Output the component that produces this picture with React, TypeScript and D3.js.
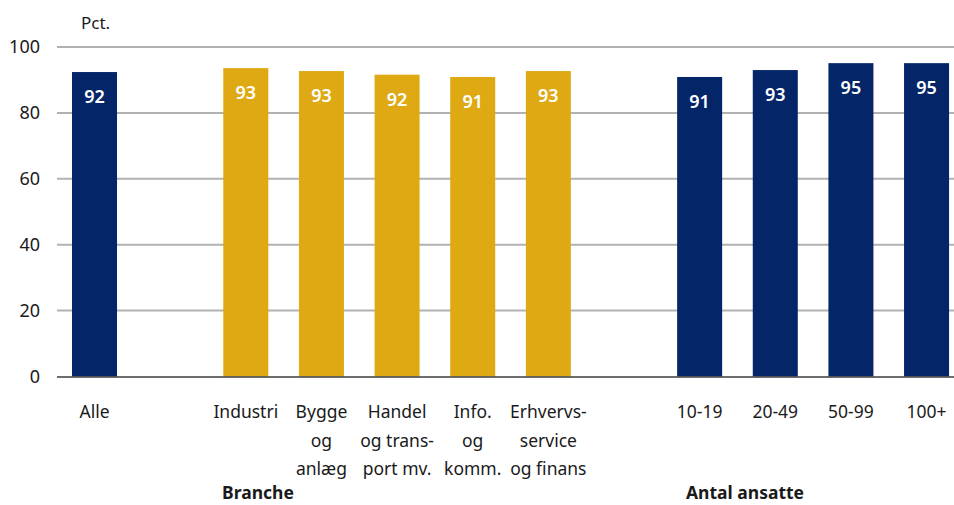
import React from 'react';
import * as d3 from 'd3';

// categories (x slots incl. blank gaps between groups)
const slots = ['Alle', 'gap1', 'Industri', 'Bygge', 'Handel', 'Info', 'Erhverv', 'gap2', '10-19', '20-49', '50-99', '100+'];
const categories = ['Alle', 'Industri', 'Bygge', 'Handel', 'Info', 'Erhverv', '10-19', '20-49', '50-99', '100+'];
const categoryLines = [
    ['Alle'],
    ['Industri'],
    ['Bygge', 'og', 'anlæg'],
    ['Handel', 'og trans-', 'port mv.'],
    ['Info.', 'og', 'komm.'],
    ['Erhvervs-', 'service', 'og finans'],
    ['10-19'],
    ['20-49'],
    ['50-99'],
    ['100+'],
];
const values = [92.4, 93.6, 92.7, 91.6, 90.9, 92.7, 90.9, 93.0, 95.1, 95.1];
const valueLabels = ['92', '93', '93', '92', '91', '93', '91', '93', '95', '95'];
const groups = ['total', 'branche', 'branche', 'branche', 'branche', 'branche', 'ansatte', 'ansatte', 'ansatte', 'ansatte'];
const yTicks = [0, 20, 40, 60, 80, 100];

const NAVY = '#052569';
const GOLD = '#DEA912';
const FONT = '"Noto Sans", "Open Sans", sans-serif';

export default function App() {
    const width = 954;
    const height = 505;
    const left = 57;

    const x = d3.scaleBand<string>()
        .domain(slots)
        .range([56.7, 56.7 + 12 * 75.64])
        .paddingInner(0.405)
        .paddingOuter(0.2025);

    const y = d3.scaleLinear().domain([0, 100]).range([376.5, 47]);

    const color = (g: string) => (g === 'branche' ? GOLD : NAVY);

    return (
        <svg width={width} height={height} style={{ position: 'absolute', left: 0, top: 0, fontFamily: FONT }}>
            <rect width={width} height={height} fill="#fff" />
            {/* gridlines */}
            {yTicks.filter(t => t > 0).map(t => (
                <line key={t} x1={left} x2={width} y1={y(t)} y2={y(t)} stroke="#b2b2b2" strokeWidth={2} />
            ))}
            {yTicks.map(t => (
                <text key={'t' + t} x={40} y={y(t)} dy="0.35em" textAnchor="end" fontSize={18} fill="#1a1a1a">{t}</text>
            ))}
            <text x={81} y={29} fontSize={17} fill="#1a1a1a">Pct.</text>

            {/* bars */}
            {categories.map((c, i) => {
                const bx = x(c)!;
                const top = y(values[i]);
                return (
                    <g key={c}>
                        <rect x={bx} y={top} width={x.bandwidth()} height={y(0) - top} fill={color(groups[i])} />
                        <text x={bx + x.bandwidth() / 2} y={top + 31} textAnchor="middle" fontSize={18} fontWeight={600} fill="#fff">
                            {valueLabels[i]}
                        </text>
                        <text x={bx + x.bandwidth() / 2} y={418} textAnchor="middle" fontSize={17.5} fill="#1a1a1a">
                            {categoryLines[i].map((ln, j) => (
                                <tspan key={j} x={bx + x.bandwidth() / 2} dy={j === 0 ? 0 : 28.5}>{ln}</tspan>
                            ))}
                        </text>
                    </g>
                );
            })}

            {/* zero axis */}
            <line x1={left} x2={width} y1={y(0) + 0.5} y2={y(0) + 0.5} stroke="#3c3c3c" strokeWidth={1.5} />

            {/* group titles */}
            <text x={258} y={499} textAnchor="middle" fontSize={17.5} fontWeight={700} fill="#1a1a1a">Branche</text>
            <text x={745} y={499} textAnchor="middle" fontSize={17.5} fontWeight={700} fill="#1a1a1a">Antal ansatte</text>
        </svg>
    );
}
